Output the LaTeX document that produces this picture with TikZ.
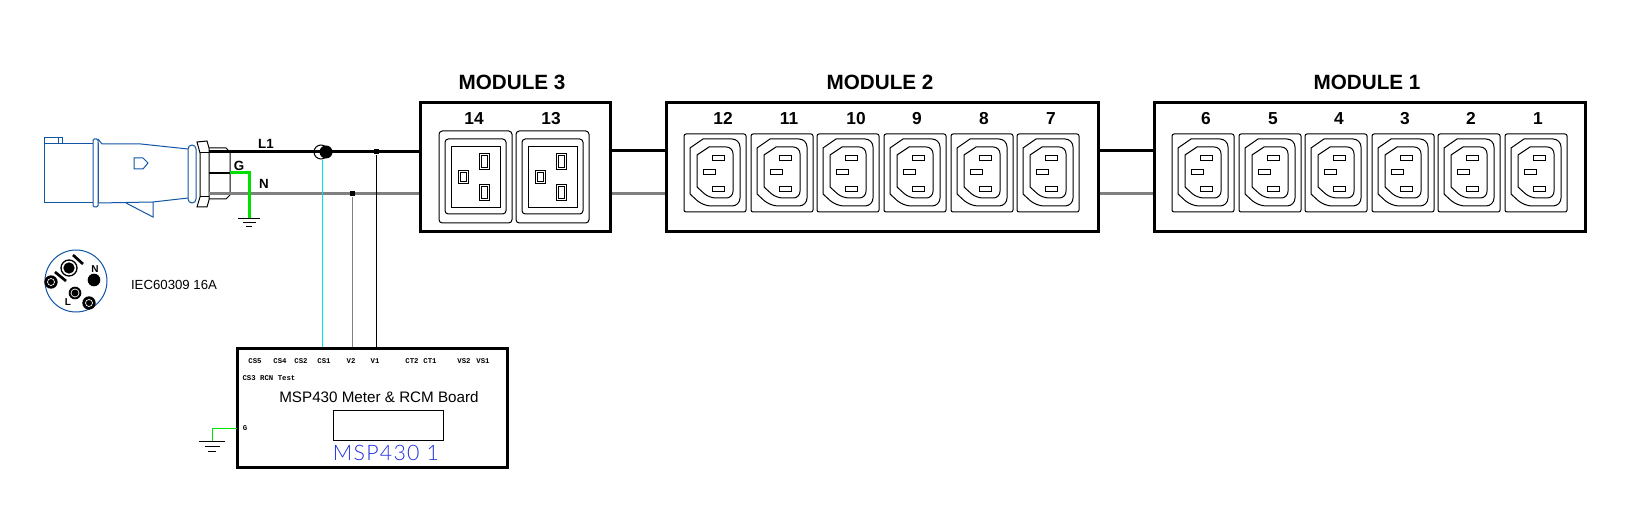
\documentclass[tikz,border=0pt]{standalone}
\usepackage{fontspec}
\setmainfont{Liberation Sans}
\setmonofont{Liberation Mono}
\newfontfamily\mspfont[LetterSpace=6]{Lato Light}
\usetikzlibrary{positioning,calc}
\definecolor{plugblue}{HTML}{1155A5}
\definecolor{wiregray}{HTML}{808080}
\definecolor{wiregreen}{HTML}{00E000}
\definecolor{sensecyan}{HTML}{00E0F0}
\definecolor{msptext}{HTML}{2030E0}
\tikzset{
  thin line/.style={draw=black, line width=0.75pt},
  module/.style={rectangle, draw=black, line width=2.25pt, minimum height=96.75pt, inner sep=0pt},
  modtitle/.style={font=\fontsize{15.5}{18}\selectfont\bfseries, inner sep=0pt, text height=11.2pt, text depth=0pt},
  outlet/.style={font=\fontsize{13}{15}\selectfont\bfseries, inner sep=0pt, text height=9.4pt, text depth=0pt},
  wirelabel/.style={font=\fontsize{10}{12}\selectfont\bfseries, inner sep=0pt},
  pinlabel/.style={font=\fontsize{7.5}{9}\selectfont\bfseries, inner sep=0pt},
  pinname/.style={font=\fontsize{5.5}{6}\selectfont\ttfamily\bfseries, inner sep=0pt},
  wireL/.style={draw=black, line width=2.25pt},
  wireN/.style={draw=wiregray, line width=2.25pt},
  wireG/.style={draw=wiregreen, line width=2.25pt},
  plugline/.style={draw=plugblue, line width=0.75pt},
  contact/.style={circle, fill=black, minimum size=9.5pt, inner sep=0pt},
  tapdot/.style={rectangle, fill=black, minimum size=3.75pt, inner sep=0pt},
  c13socket/.pic={
    \draw[thin line, rounded corners=1.5pt] (0,0) rectangle (62,78);
    \draw[thin line] (6,14) -- (19,5) [rounded corners=6pt] -- (56,5) -- (56,72) -- (19,72) [sharp corners] -- (6,60) -- cycle;
    \draw[thin line] (13,21) -- (25,13) [rounded corners=5pt] -- (49,13) -- (49,64) -- (25,64) [sharp corners] -- (13,53) -- cycle;
    \draw[thin line] (28,22) rectangle (40,27);
    \draw[thin line] (19,36) rectangle (31,41);
    \draw[thin line] (28,53) rectangle (40,58);
  },
  c19socket/.pic={
    \draw[thin line, rounded corners=2.5pt] (0,0) rectangle (73,92);
    \draw[thin line, rounded corners=2.5pt] (6,8) rectangle (67,83);
    \draw[thin line] (12,16) rectangle (61,77);
    \draw[thin line] (19,40) rectangle (29,53);
    \draw[thin line] (21,42) rectangle (27,51);
    \draw[thin line] (40,23) rectangle (50,39);
    \draw[thin line] (42,25) rectangle (48,37);
    \draw[thin line] (40,54) rectangle (50,70);
    \draw[thin line] (42,56) rectangle (48,68);
  },
}

\begin{document}
\begin{tikzpicture}[x=0.75pt, y=-0.75pt]
  \useasboundingbox (0,0) rectangle (1627,520);

  % modules
  \node[module, minimum width=142.5pt] (mod3) at (515,167.5) {};
  \node[module, minimum width=324pt] (mod2) at (882,167.5) {};
  \node[module, minimum width=323.25pt] (mod1) at (1369.5,167.5) {};
  \node[modtitle] (title3) at (512,82) {MODULE 3};
  \node[modtitle] (title2) at (880,82) {MODULE 2};
  \node[modtitle] (title1) at (1367,82) {MODULE 1};

  % outlets
  \node[outlet] (o14) at (474,118) {14};
  \node[outlet] (o13) at (551,118) {13};
  \node[outlet] (o12) at (723,118) {12};
  \node[outlet] (o11) at (789,118) {11};
  \node[outlet] (o10) at (856,118) {10};
  \node[outlet] (o9) at (917,118) {9};
  \node[outlet] (o8) at (984,118) {8};
  \node[outlet] (o7) at (1051,118) {7};
  \node[outlet] (o6) at (1206,118) {6};
  \node[outlet] (o5) at (1273,118) {5};
  \node[outlet] (o4) at (1339,118) {4};
  \node[outlet] (o3) at (1405,118) {3};
  \node[outlet] (o2) at (1471,118) {2};
  \node[outlet] (o1) at (1538,118) {1};

  \pic at (439,131) {c19socket};
  \pic at (516,131) {c19socket};
  \pic at (684,134) {c13socket};
  \pic at (751,134) {c13socket};
  \pic at (817,134) {c13socket};
  \pic at (884,134) {c13socket};
  \pic at (951,134) {c13socket};
  \pic at (1017,134) {c13socket};
  \pic at (1172,134) {c13socket};
  \pic at (1239,134) {c13socket};
  \pic at (1305,134) {c13socket};
  \pic at (1372,134) {c13socket};
  \pic at (1438,134) {c13socket};
  \pic at (1505,134) {c13socket};

  % plug body
  \draw[plugline] (44,144) rectangle (98,203);
  \draw[plugline] (44,144) rectangle (62,138);
  \draw[plugline] (58,138) -- (58,144);
  \draw[plugline, fill=white, rounded corners=1pt] (93,139) rectangle (98,207);
  \draw[plugline] (98,139) -- (102,144) -- (141,144) -- (188,149);
  \draw[plugline] (98,203) -- (153,202) -- (188,198);
  \draw[plugline] (126,203) -- (153,217) -- (153,202);
  \draw[plugline] (134,158) -- (143,158) -- (148,163) -- (143,169) -- (134,169) -- cycle;
  \draw[plugline, rounded corners=3pt] (188,145) rectangle (196,203);

  % gland
  \draw[thin line] (197,142) -- (207,141) -- (209,148) -- (209,200) -- (207,207) -- (197,207) -- (200,197) -- (200,153) -- cycle;
  \draw[thin line] (200,153) -- (209,153);
  \draw[thin line] (200,197) -- (209,197);
  \draw[thin line] (209,148) -- (226,148) -- (230,152) -- (230,195) -- (226,199) -- (209,199);

  % wires
  \coordinate (glandL) at (209,152);
  \coordinate (glandG) at (209,173);
  \coordinate (glandN) at (209,194);
  \coordinate (glandedge) at (230,173);
  \coordinate (earthtop) at (249,219);
  \draw[wireL] (glandL) -- (glandL -| mod3.west);
  \draw[wireN] (glandN) -- (glandN -| mod3.west);
  \draw[draw=black, line width=1.5pt] (glandG) -- (glandedge);
  \draw[wireG] (glandedge) -| (earthtop);
  \draw[wireL] ($(mod3.east)+(0,-16.5)$) -- ($(mod2.west)+(0,-16.5)$);
  \draw[wireN] ($(mod3.east)+(0,26.5)$) -- ($(mod2.west)+(0,26.5)$);
  \draw[wireL] ($(mod2.east)+(0,-16.5)$) -- ($(mod1.west)+(0,-16.5)$);
  \draw[wireN] ($(mod2.east)+(0,26.5)$) -- ($(mod1.west)+(0,26.5)$);
  \node[wirelabel] (labL) at (266,144) {L1};
  \node[wirelabel] (labG) at (239,166) {G};
  \node[wirelabel] (labN) at (264,184) {N};

  % earth symbol at gland
  \draw[thin line] (238,219) -- (260,219);
  \draw[thin line] (243,223) -- (256,223);
  \draw[thin line] (246,227) -- (252,227);

  % board
  \node[rectangle, draw=black, line width=2.25pt, minimum width=202.5pt, minimum height=89.25pt, inner sep=0pt] (board) at (372,407.5) {};
  \node[rectangle, thin line, minimum width=82.5pt, minimum height=22.5pt, inner sep=0pt] (display) at (388,425) {};
  \node[font=\fontsize{11.4}{13}\selectfont, inner sep=0pt] (boardname) at (379,397) {MSP430 Meter \& RCM Board};
  \node[font=\fontsize{16}{18}\selectfont\mspfont, text=msptext, inner sep=0pt] (mspname) at (386,453) {MSP430 1};

  \node[pinname] (cs5) at (255,361) {CS5};
  \node[pinname] (cs4) at (280,361) {CS4};
  \node[pinname] (cs2) at (301,361) {CS2};
  \node[pinname] (cs1) at (324,361) {CS1};
  \node[pinname] (v2) at (351,361) {V2};
  \node[pinname] (v1) at (375,361) {V1};
  \node[pinname] (ct2) at (412,361) {CT2};
  \node[pinname] (ct1) at (430,361) {CT1};
  \node[pinname] (vs2) at (464,361) {VS2};
  \node[pinname] (vs1) at (483,361) {VS1};
  \node[pinname] (cs3) at (269,378) {CS3 RCN Test};
  \node[pinname] (gpin) at (245,428) {G};

  % taps to board
  \node[tapdot] (tapL) at (376,152) {};
  \node[tapdot] (tapN) at (352,194) {};
  \draw[draw=black, line width=0.75pt] (tapL) -- (tapL |- board.north);
  \draw[draw=wiregray, line width=0.75pt] (tapN) -- (tapN |- board.north);

  % current sensor
  \draw[thin line] (321,152) circle (7);
  \node[circle, fill=black, minimum size=9.75pt, inner sep=0pt] (sensor) at (326,152) {};
  \coordinate (sensefoot) at (322,160);
  \draw[draw=sensecyan, line width=0.75pt] (sensefoot) -- (sensefoot |- board.north);

  % earth at board
  \coordinate (boardG) at (237,428);
  \coordinate (boardearth) at (212,441);
  \draw[draw=wiregreen, line width=0.75pt] (boardG) -| (boardearth);
  \draw[thin line] (199,441) -- (225,441);
  \draw[thin line] (205,446) -- (220,446);
  \draw[thin line] (208,451) -- (216,451);

  % plug face
  \draw[plugline] (76,281) circle (31);
  \node[circle, fill=black, minimum size=8.5pt, inner sep=0pt] (pinPE) at (69,268) {};
  \draw[draw=black, line width=1pt] (pinPE) circle (8);
  \draw[draw=black, line width=2pt] (73,255) -- (83,264);
  \draw[draw=black, line width=2pt] (55,272) -- (66,281);
  \node[contact] (pinN) at (94,280) {};
  \node[contact] (pinL) at (75,293) {};
  \draw[draw=white, line width=0.5pt] (pinL) circle (4);
  \node[contact, minimum size=10pt] (pinA) at (51,282) {};
  \draw[draw=white, line width=0.5pt] (pinA) circle (3.5);
  \node[contact, minimum size=10pt] (pinB) at (89,303) {};
  \draw[draw=white, line width=0.5pt] (pinB) circle (3.5);
  \node[pinlabel] (faceN) at (95,269) {N};
  \node[pinlabel] (faceL) at (68,302) {L};
  \node[font=\fontsize{9.9}{12}\selectfont, inner sep=0pt] (plugtype) at (174,285) {IEC60309 16A};
\end{tikzpicture}
\end{document}
